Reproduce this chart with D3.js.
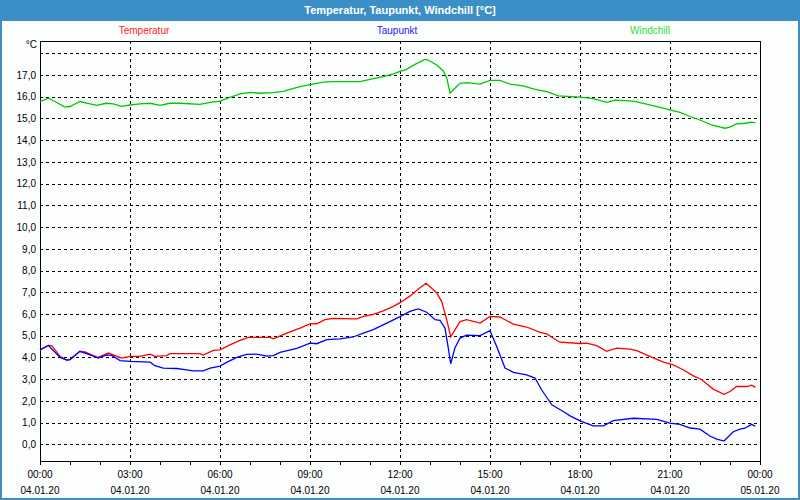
<!DOCTYPE html>
<html>
<head>
<meta charset="utf-8">
<script src="https://cdn.jsdelivr.net/npm/d3@7"></script>
<style>
    body { margin: 0; background: #ffffff; }
    svg { display: block; font-family: "Liberation Sans", Arial, sans-serif; }
</style>
</head>
<body>
<svg></svg>
<script>
// time in hours after 04.01.20 00:00, values in °C
let tempHours = [0, 0.28, 0.39, 0.67, 0.89, 1.0, 1.33, 1.5, 1.78, 1.94, 2.28, 2.44, 2.72, 3, 3.33, 3.67, 3.83, 4.22, 4.33, 5.33, 5.44, 5.78, 6, 6.33, 6.67, 6.94, 7.67, 7.78, 8.22, 8.67, 9, 9.22, 9.5, 9.78, 10.56, 10.78, 11.11, 11.44, 11.78, 12, 12.33, 12.61, 12.87, 13.22, 13.39, 13.56, 13.69, 14, 14.22, 14.67, 15, 15.33, 15.78, 16.22, 16.67, 16.89, 17.33, 18, 18.22, 18.56, 18.89, 19.22, 19.67, 19.89, 20.33, 20.78, 21.11, 21.44, 21.78, 22.06, 22.44, 22.8, 23, 23.22, 23.56, 23.72, 23.85]
let tempValues = [4.35, 4.55, 4.54, 4.05, 3.88, 3.9, 4.28, 4.25, 4.08, 4.0, 4.2, 4.12, 3.97, 4.05, 4.05, 4.15, 4.05, 4.08, 4.17, 4.17, 4.11, 4.32, 4.35, 4.58, 4.78, 4.92, 4.92, 4.86, 5.12, 5.35, 5.54, 5.55, 5.74, 5.8, 5.77, 5.89, 5.98, 6.14, 6.35, 6.52, 6.82, 7.15, 7.41, 6.98, 6.57, 5.72, 4.95, 5.65, 5.74, 5.58, 5.89, 5.86, 5.53, 5.4, 5.15, 5.08, 4.7, 4.64, 4.66, 4.54, 4.28, 4.43, 4.38, 4.31, 4.05, 3.78, 3.66, 3.43, 3.15, 2.97, 2.54, 2.3, 2.43, 2.66, 2.66, 2.72, 2.62]

let dewHours = [0, 0.28, 0.67, 0.89, 1.0, 1.33, 1.67, 1.94, 2.22, 2.39, 2.67, 3, 3.67, 3.83, 4.11, 4.56, 4.89, 5.11, 5.44, 5.67, 6, 6.22, 6.56, 6.89, 7.22, 7.56, 7.78, 8, 8.56, 9, 9.22, 9.56, 10, 10.44, 10.78, 11.11, 11.56, 12, 12.33, 12.61, 12.89, 13.17, 13.33, 13.5, 13.61, 13.69, 13.83, 14, 14.22, 14.67, 15, 15.22, 15.5, 15.78, 16.22, 16.5, 16.72, 17.06, 17.44, 17.67, 18, 18.44, 18.78, 19.11, 19.78, 20.56, 21, 21.33, 21.67, 22, 22.33, 22.56, 22.8, 23.11, 23.33, 23.5, 23.72, 23.85]
let dewValues = [4.35, 4.55, 4.0, 3.88, 3.9, 4.28, 4.12, 3.97, 4.12, 4.09, 3.85, 3.82, 3.78, 3.62, 3.51, 3.49, 3.43, 3.38, 3.38, 3.51, 3.6, 3.77, 4.0, 4.14, 4.15, 4.06, 4.08, 4.23, 4.42, 4.66, 4.63, 4.82, 4.85, 4.94, 5.12, 5.28, 5.58, 5.88, 6.12, 6.23, 6.08, 5.74, 5.71, 5.35, 4.43, 3.71, 4.43, 4.89, 5.02, 5.0, 5.23, 4.51, 3.51, 3.31, 3.2, 3.05, 2.51, 1.82, 1.51, 1.31, 1.08, 0.85, 0.85, 1.09, 1.2, 1.15, 0.97, 0.92, 0.75, 0.7, 0.38, 0.24, 0.15, 0.58, 0.7, 0.74, 0.92, 0.83]

let windHours = [0, 0.28, 0.5, 0.83, 1.0, 1.33, 1.67, 1.9, 2.2, 2.44, 2.72, 3, 3.33, 3.67, 4, 4.33, 4.67, 5.33, 5.67, 6, 6.33, 6.67, 7, 7.33, 7.78, 8.11, 8.33, 8.67, 9, 9.44, 9.78, 10.67, 11, 11.44, 11.78, 12, 12.22, 12.5, 12.83, 12.94, 13.22, 13.44, 13.56, 13.67, 13.83, 14, 14.22, 14.67, 15, 15.33, 15.67, 16.11, 16.44, 16.89, 17.28, 18, 18.44, 18.89, 19.17, 19.78, 20.11, 20.56, 21, 21.33, 21.67, 22, 22.39, 22.83, 23.0, 23.22, 23.5, 23.72, 23.85]
let windValues = [15.78, 15.93, 15.78, 15.52, 15.55, 15.78, 15.67, 15.6, 15.7, 15.67, 15.56, 15.62, 15.67, 15.7, 15.6, 15.7, 15.7, 15.65, 15.74, 15.8, 15.97, 16.13, 16.2, 16.16, 16.19, 16.25, 16.34, 16.47, 16.56, 16.67, 16.7, 16.7, 16.8, 16.93, 17.05, 17.17, 17.26, 17.49, 17.72, 17.69, 17.46, 17.2, 16.85, 16.16, 16.39, 16.62, 16.65, 16.58, 16.75, 16.75, 16.58, 16.5, 16.36, 16.24, 16.04, 15.98, 15.91, 15.74, 15.84, 15.8, 15.7, 15.55, 15.39, 15.28, 15.09, 14.93, 14.7, 14.55, 14.6, 14.75, 14.78, 14.83, 14.8]

let seriesNames = ['Temperatur', 'Taupunkt', 'Windchill']
let seriesColors = ['#ff0000', '#0000ff', '#00c800']
let legendColors = ['#ff2020', '#2020ff', '#33dd33']

let yTicks = d3.range(0, 19)
let startTime = new Date(2020, 0, 4, 0, 0)
let endTime = new Date(2020, 0, 5, 0, 0)

let width = 800
let height = 500
let plotLeft = 40
let plotRight = 760
let plotTop = 41
let plotBottom = 461

let svg = d3.select('svg')
    .attr('width', width)
    .attr('height', height)

let xScale = d3.scaleTime()
    .domain([startTime, endTime])
    .range([plotLeft, plotRight])

let yScale = d3.scaleLinear()
    .domain([0, 18])
    .range([444.3, 53.3])

let toDate = (h) => new Date(startTime.getTime() + h * 3600 * 1000)

let drawFrame = () => {
    svg.append('rect')
        .attr('x', 0).attr('y', 0)
        .attr('width', width).attr('height', height)
        .attr('fill', '#fbfefc')
    svg.append('rect')
        .attr('x', 1).attr('y', 0)
        .attr('width', width - 2).attr('height', height - 1)
        .attr('fill', 'none')
        .attr('stroke', '#3c8fc6')
        .attr('stroke-width', 2)
    svg.append('rect')
        .attr('x', 0).attr('y', 0)
        .attr('width', width).attr('height', 21)
        .attr('fill', '#3c8fc6')
    svg.append('text')
        .attr('x', width / 2)
        .attr('y', 14)
        .attr('text-anchor', 'middle')
        .attr('fill', '#ffffff')
        .attr('font-weight', 'bold')
        .attr('font-size', '11px')
        .text('Temperatur, Taupunkt, Windchill [°C]')
}

let drawLegend = () => {
    let legendX = [144, 397, 650]
    svg.selectAll('.legend')
        .data(seriesNames)
        .enter()
        .append('text')
        .attr('class', 'legend')
        .attr('x', (d, i) => legendX[i])
        .attr('y', 34)
        .attr('text-anchor', 'middle')
        .attr('font-size', '10px')
        .attr('fill', (d, i) => legendColors[i])
        .text((d) => d)
}

let drawGrid = () => {
    let grid = svg.append('g')
        .attr('stroke', '#000000')
        .attr('stroke-dasharray', '3,3')
        .attr('shape-rendering', 'crispEdges')
    grid.selectAll('.hgrid')
        .data(yTicks)
        .enter()
        .append('line')
        .attr('x1', plotLeft).attr('x2', plotRight)
        .attr('y1', (d) => Math.round(yScale(d)) + 0.5)
        .attr('y2', (d) => Math.round(yScale(d)) + 0.5)
    grid.selectAll('.vgrid')
        .data(d3.timeHour.every(3).range(d3.timeHour.offset(startTime, 3), endTime))
        .enter()
        .append('line')
        .attr('x1', (d) => xScale(d) + 0.5).attr('x2', (d) => xScale(d) + 0.5)
        .attr('y1', plotTop).attr('y2', plotBottom)
}

let drawAxes = () => {
    let yAxis = d3.axisLeft(yScale)
        .tickValues(yTicks.slice(0, 18))
        .tickSize(0)
        .tickPadding(4)
        .tickFormat((d) => d3.format('.1f')(d).replace('.', ','))
    let yg = svg.append('g')
        .attr('transform', 'translate(' + plotLeft + ',0)')
        .call(yAxis)
    yg.select('.domain').remove()
    yg.selectAll('text')
        .attr('font-size', '10px')
        .attr('font-family', '"Liberation Sans", Arial, sans-serif')
        .attr('fill', '#000000')

    svg.append('text')
        .attr('x', 37)
        .attr('y', 48)
        .attr('text-anchor', 'end')
        .attr('font-size', '10px')
        .attr('fill', '#000000')
        .text('°C')

    let xAxis = d3.axisBottom(xScale)
        .ticks(d3.timeHour.every(1))
        .tickSize(4)
        .tickFormat('')
    let xg = svg.append('g')
        .attr('transform', 'translate(0,' + plotBottom + ')')
        .attr('shape-rendering', 'crispEdges')
        .call(xAxis)
    xg.select('.domain').remove()

    let labelTimes = d3.timeHour.every(3).range(startTime, d3.timeHour.offset(endTime, 1))
    svg.selectAll('.xtime')
        .data(labelTimes)
        .enter()
        .append('text')
        .attr('x', (d) => xScale(d))
        .attr('y', 478)
        .attr('text-anchor', 'middle')
        .attr('font-size', '10px')
        .attr('fill', '#000000')
        .text((d) => d3.timeFormat('%H:%M')(d))
    svg.selectAll('.xdate')
        .data(labelTimes)
        .enter()
        .append('text')
        .attr('x', (d) => xScale(d))
        .attr('y', 494)
        .attr('text-anchor', 'middle')
        .attr('font-size', '10px')
        .attr('fill', '#000000')
        .text((d) => d3.timeFormat('%d.%m.%y')(d))

    svg.append('rect')
        .attr('x', plotLeft + 0.5).attr('y', plotTop + 0.5)
        .attr('width', plotRight - plotLeft).attr('height', plotBottom - plotTop)
        .attr('fill', 'none')
        .attr('stroke', '#000000')
        .attr('shape-rendering', 'crispEdges')
}

let drawLines = () => {
    let series = [
        tempHours.map((h, i) => ({ t: toDate(h), v: tempValues[i] })),
        dewHours.map((h, i) => ({ t: toDate(h), v: dewValues[i] })),
        windHours.map((h, i) => ({ t: toDate(h), v: windValues[i] }))
    ]
    let line = d3.line()
        .x((d) => xScale(d.t))
        .y((d) => yScale(d.v))
    svg.selectAll('.series')
        .data(series)
        .enter()
        .append('path')
        .attr('class', 'series')
        .attr('d', line)
        .attr('fill', 'none')
        .attr('stroke', (d, i) => seriesColors[i])
        .attr('stroke-width', 1.3)
}

drawFrame()
drawLegend()
drawGrid()
drawAxes()
drawLines()
</script>
</body>
</html>
